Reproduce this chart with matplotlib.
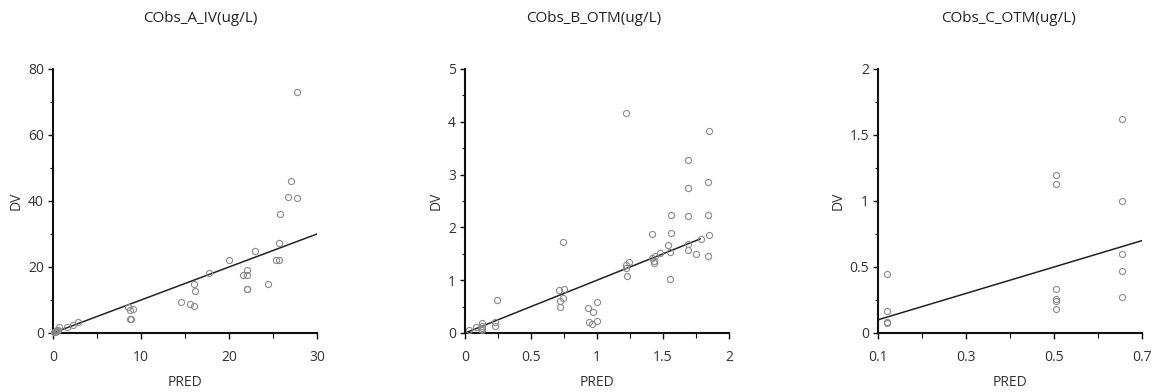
"""Observed vs predicted concentration scatter panels."""

import matplotlib
matplotlib.use("Agg")
import matplotlib.pyplot as plt
from matplotlib.ticker import MultipleLocator

plt.rcParams["font.family"] = ["Open Sans", "DejaVu Sans"]

# panel A: CObs_A_IV
a_pred = [27.7, 27.1, 26.7, 27.7, 25.8, 25.7, 22.9, 25.3, 25.7, 20.0, 22.1, 21.6, 22.0,
          17.7, 22.0, 22.0, 24.4, 16.0, 16.1, 14.5, 15.6, 16.0, 8.5, 8.7, 9.1, 8.7, 8.9,
          2.8, 2.3, 1.6, 0.7, 0.6, 0.1, 0.3, 0.5, 0.2, 0.4]
a_dv = [73.1, 46.2, 41.3, 40.9, 36.2, 27.2, 24.7, 22.2, 22.2, 22.1, 19.2, 17.6, 17.6,
        18.2, 13.4, 13.2, 15.0, 14.7, 12.7, 9.3, 8.7, 8.1, 7.8, 7.1, 7.3, 4.2, 4.2,
        3.3, 2.5, 1.7, 1.8, 1.0, 0.2, 0.5, 0.8, 0.3, 0.6]
a_line_x = [0, 30]
a_line_y = [0, 30]

# panel B: CObs_B_OTM
b_pred = [1.22, 1.85, 1.69, 1.84, 1.69, 1.56, 1.69, 1.84, 1.56, 1.42, 1.85, 1.79, 1.69,
          1.54, 1.69, 1.75, 1.84, 1.48, 1.55, 1.44, 1.42, 1.43, 1.43, 1.55, 1.24, 1.22,
          1.22, 1.23, 0.74, 0.71, 0.75, 0.72, 0.74, 0.72, 1.00, 0.93, 0.97, 1.00, 0.94,
          0.96, 0.24, 0.23, 0.23, 0.13, 0.13, 0.13, 0.13, 0.08, 0.03, 0.12]
b_dv = [4.16, 3.83, 3.28, 2.86, 2.74, 2.23, 2.21, 2.24, 1.90, 1.87, 1.85, 1.78, 1.68,
        1.66, 1.58, 1.49, 1.46, 1.51, 1.53, 1.46, 1.42, 1.37, 1.32, 1.02, 1.34, 1.28,
        1.24, 1.08, 1.72, 0.81, 0.83, 0.60, 0.66, 0.49, 0.58, 0.47, 0.39, 0.23, 0.20,
        0.17, 0.63, 0.21, 0.13, 0.18, 0.14, 0.10, 0.06, 0.11, 0.06, 0.08]
b_line_x = [0, 1.78]
b_line_y = [0, 1.78]

# panel C: CObs_C_OTM
c_pred = [0.655, 0.655, 0.655, 0.655, 0.655, 0.504, 0.504, 0.504, 0.504, 0.504, 0.504,
          0.121, 0.121, 0.121, 0.121]
c_dv = [1.62, 1.00, 0.60, 0.47, 0.275, 1.20, 1.13, 0.33, 0.26, 0.24, 0.18,
        0.45, 0.17, 0.08, 0.073]
c_line_x = [0.1, 0.7]
c_line_y = [0.1, 0.7]

panels = [
    ("CObs_A_IV(ug/L)", a_pred, a_dv, a_line_x, a_line_y,
     (0, 30), (0, 80), 5, 20, 10, [0, 10, 20, 30]),
    ("CObs_B_OTM(ug/L)", b_pred, b_dv, b_line_x, b_line_y,
     (0, 2), (0, 5), 0.25, 1, 0.5, [0, 0.5, 1, 1.5, 2]),
    ("CObs_C_OTM(ug/L)", c_pred, c_dv, c_line_x, c_line_y,
     (0.1, 0.7), (0, 2), 0.1, 0.5, 0.25, [0.1, 0.3, 0.5, 0.7]),
]

lefts = [53 / 1156, 465 / 1156, 878 / 1156]
title_x = [200 / 1156, 594 / 1156, 1008 / 1156]
W, H = 264 / 1156, 264 / 392
B = (392 - 333) / 392

fig = plt.figure(figsize=(11.56, 3.92), dpi=100)
txt = "#333333"

for i, (title, px, dv, lx, ly, xl, yl, xmin, ymaj, ymin, xt) in enumerate(panels):
    ax = fig.add_axes([lefts[i], B, W, H])
    ax.plot(px, dv, "o", mfc="none", mec="#8a8a8a", ms=4.4, mew=0.8, clip_on=False, zorder=3)
    ax.plot(lx, ly, color="#222222", lw=1.1, zorder=2)
    ax.set_xlim(*xl)
    ax.set_ylim(*yl)
    ax.set_xticks(xt)
    ax.set_xticklabels([f"{v:g}" for v in xt])
    ax.xaxis.set_minor_locator(MultipleLocator(xmin))
    ax.yaxis.set_major_locator(MultipleLocator(ymaj))
    ax.yaxis.set_minor_locator(MultipleLocator(ymin))
    ax.yaxis.set_major_formatter(plt.FuncFormatter(lambda v, p: f"{v:g}"))
    for s in ("top", "right"):
        ax.spines[s].set_visible(False)
    for s in ("left", "bottom"):
        ax.spines[s].set_linewidth(1.5)
        ax.spines[s].set_color("#111111")
    ax.tick_params(which="major", direction="out", length=3.5, width=1, colors="#111111",
                   labelsize=10, labelcolor=txt, pad=3)
    ax.tick_params(which="minor", direction="out", length=2.5, width=0.8, colors="#111111")
    ax.tick_params(axis="x", which="major", length=4.3, pad=8)
    ax.tick_params(axis="x", which="minor", length=3.6)
    ax.set_xlabel("PRED", fontsize=10, color=txt, labelpad=7.5)
    ax.set_ylabel("DV", fontsize=10, color=txt, labelpad=3)
    fig.text(title_x[i], 1 - 18 / 392, title, ha="center", va="center", fontsize=11, color="#222222")

fig.savefig("out.png", dpi=100)
